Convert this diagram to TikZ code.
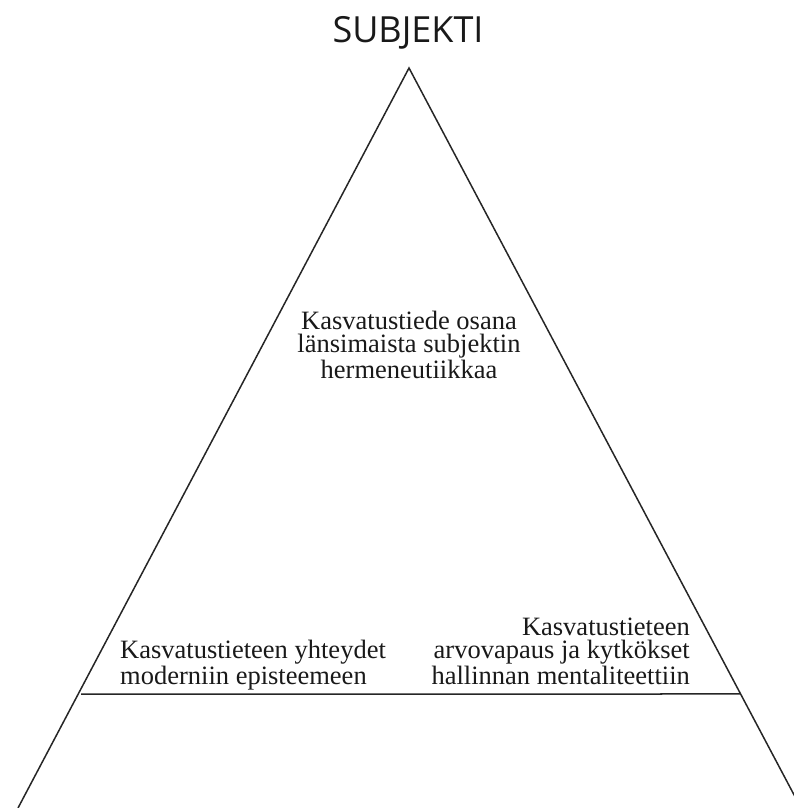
\documentclass[tikz,border=0pt]{standalone}
\usepackage{fontspec}
\setmainfont{Liberation Serif}
\newfontfamily\headfont{Open Sans}
\usetikzlibrary{positioning,calc}

\begin{document}
\begin{tikzpicture}[x=1pt,y=-1pt,
      side/.style={line width=1.5pt, color=black!85},
      lbl/.style={inner sep=0pt, text=black!90, font=\fontsize{26.5}{23}\selectfont}]
       \useasboundingbox (0,0) rectangle (794,808);
       \clip (0,0) rectangle (794,808);
       % corners of the triangle
       \coordinate (apex) at (409,68);
       \coordinate (bl) at (18,808);
       \coordinate (br) at (801,808);
       \coordinate (cutl) at (81,694);
       \coordinate (cutr) at ($(apex)!{(694-68)/(808-68)}!(br)$);
                 \draw[side] (bl) -- (apex) -- (br);
                 \draw[side] (cutl) -- (cutr);
       % base anchor = baseline of the last line
       \node[inner sep=0pt, text=black!90, font=\headfont\fontsize{36}{40}\selectfont, anchor=base] (subj) at (408,43) {SUBJEKTI};
       \node[lbl, align=center, anchor=base] (herm) at (409,378) {Kasvatustiede osana\\länsimaista subjektin\\hermeneutiikkaa};
       \node[lbl, align=left, anchor=base west] (epis) at (120,684) {Kasvatustieteen yhteydet\\moderniin episteemeen};
       \node[lbl, align=right, anchor=base east] (arvo) at (690,684) {Kasvatustieteen\\arvovapaus ja kytkökset\\hallinnan mentaliteettiin};
%       \draw[dashed] (apex) -- (subj);
     \end{tikzpicture}
\end{document}
